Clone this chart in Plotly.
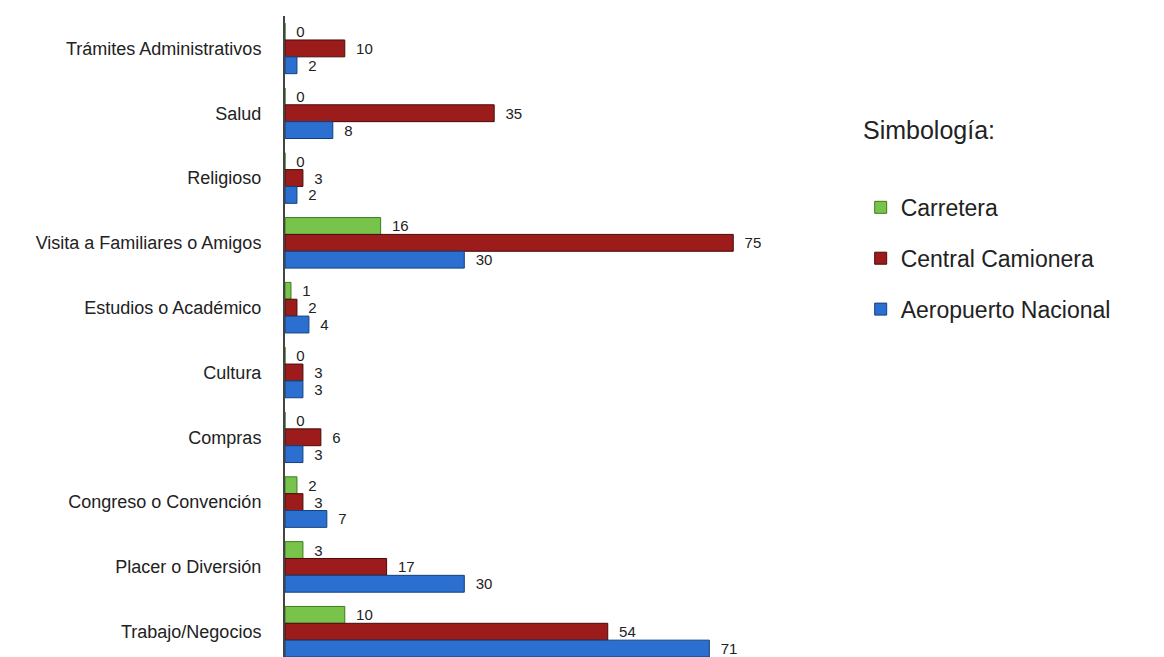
import plotly.graph_objects as go

categories = ["Trámites Administrativos", "Salud", "Religioso", "Visita a Familiares o Amigos",
              "Estudios o Académico", "Cultura", "Compras", "Congreso o Convención",
              "Placer o Diversión", "Trabajo/Negocios"]
carretera = [0, 0, 0, 16, 1, 0, 0, 2, 3, 10]
central = [10, 35, 3, 75, 2, 3, 6, 3, 17, 54]
aeropuerto = [2, 8, 2, 30, 4, 3, 3, 7, 30, 71]

series = [
    ("Carretera", carretera, "#78c44a", "#3f7a22"),
    ("Central Camionera", central, "#9c1c1c", "#4a0a0a"),
    ("Aeropuerto Nacional", aeropuerto, "#2b6fd0", "#14407e"),
]

fig = go.Figure()
for i, (name, vals, col, line) in enumerate(series):
    fig.add_trace(go.Bar(
        y=categories, x=vals, name=name, orientation="h",
        marker=dict(color=col, line=dict(color=line, width=1)),
        text=[str(v) for v in vals], texttemplate="  %{text}",
        textposition="outside", constraintext="none",
        textfont=dict(size=15, color="#222", family="Liberation Sans, Arial"),
        cliponaxis=False, legendgroup="g%d" % i,
    ))

fig.update_layout(
    width=1164, height=657,
    margin=dict(l=285, r=365, t=16, b=0),
    paper_bgcolor="white", plot_bgcolor="white",
    barmode="group", bargap=0.22, bargroupgap=0.0,
    font=dict(family="Liberation Sans, Arial", color="#222"),
    xaxis=dict(range=[0, 86], visible=False, showgrid=False, zeroline=False),
    yaxis=dict(categoryorder="array", categoryarray=categories, range=[9.39, -0.5],
               showline=True, linecolor="#444", linewidth=2, ticks="", showgrid=False,
               tickfont=dict(size=18, color="#222"), ticklabelstandoff=18),
    legend=dict(x=1.12, xanchor="left", y=0.735, yanchor="top",
                traceorder="grouped", tracegroupgap=18,
                font=dict(size=23, color="#222"), bgcolor="rgba(0,0,0,0)"),
    annotations=[dict(text="Simbología:", x=1.12, xref="paper", xanchor="left",
                      y=1 - (130 - 16) / 641, yref="paper", yanchor="middle",
                      showarrow=False, font=dict(size=25, color="#222"))],
)
fig.write_html("out.html")
